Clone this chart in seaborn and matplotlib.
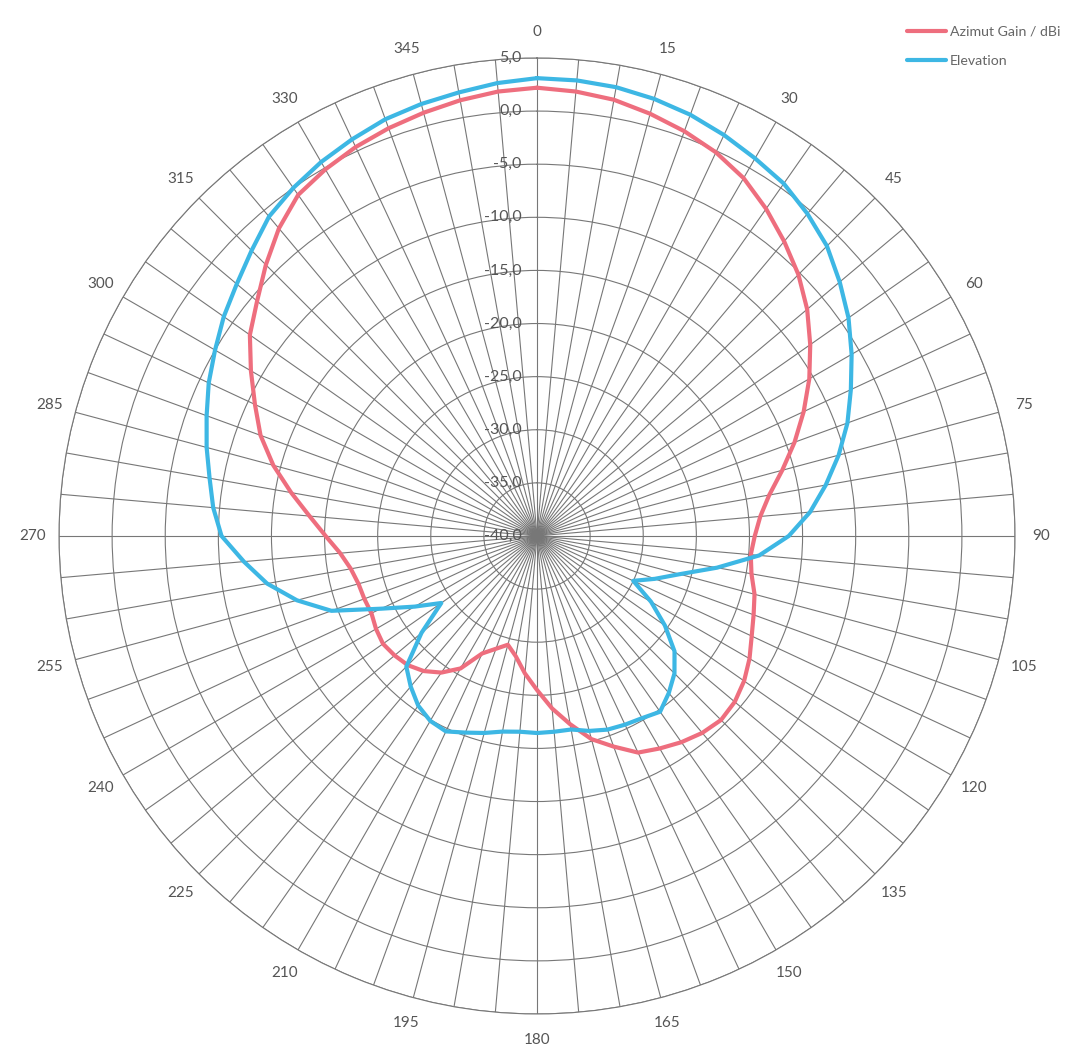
import numpy as np
import pandas as pd
import matplotlib
matplotlib.use("Agg")
import matplotlib.pyplot as plt
import seaborn as sns

# ---------------- data ----------------
angles_deg = list(range(0, 360, 5))

azimut_gain = [
    2.2, 2.0, 1.7, 1.15, 0.55, -0.15, -1.1, -2.4, -3.8, -5.2,
    -6.8, -8.6, -10.4, -12.3, -14.2, -16.1, -17.8, -18.9, -19.5, -19.8,
    -19.5, -18.8, -18.3, -17.7, -16.9, -16.2, -15.7, -15.5, -15.8, -16.3,
    -16.9, -17.5, -18.9, -20.2, -22.0, -23.7, -25.5, -27.0, -28.5, -29.4,
    -28.7, -27.8, -25.6, -24.3, -23.4, -22.8, -22.5, -22.3, -22.5, -22.8,
    -22.7, -22.6, -22.2, -21.4, -20.1, -18.5, -16.5, -14.3, -12.3, -10.7,
    -8.9, -7.0, -5.6, -3.9, -2.2, -0.8, -0.15, 0.4, 0.85, 1.25,
    1.65, 2.0,
]

elevation_gain = [
    3.1, 3.05, 2.9, 2.6, 2.2, 1.65, 1.05, 0.5, -0.4, -1.4,
    -2.8, -4.2, -5.8, -7.4, -8.9, -10.6, -12.4, -14.2, -16.3, -19.0,
    -22.8, -26.1, -28.2, -30.0, -27.6, -25.3, -23.1, -21.7, -20.7, -19.8,
    -20.2, -20.4, -20.6, -21.0, -21.5, -21.5, -21.45, -21.5, -21.3, -20.8,
    -20.3, -19.7, -19.9, -20.5, -21.5, -22.6, -25.8, -29.0, -26.7, -23.8,
    -19.4, -16.6, -14.2, -12.3, -10.3, -9.4, -8.7, -7.8, -6.9, -5.9,
    -5.0, -4.0, -3.1, -2.0, -0.75, 0.0, 0.65, 1.2, 1.75, 2.1,
    2.4, 2.8,
]

series_names = ["Azimut Gain / dBi", "Elevation"]
series_colors = ["#EE6E7E", "#3DB7E4"]

r_ticks = [-40, -35, -30, -25, -20, -15, -10, -5, 0, 5]
r_tick_labels = ["-40,0", "-35,0", "-30,0", "-25,0", "-20,0",
                 "-15,0", "-10,0", "-5,0", "0,0", "5,0"]

angle_label_values = [0, 15, 30, 45, 60, 75, 90, 105, 120, 135, 150, 165,
                      180, 195, 210, 225, 240, 255, 270, 285, 300, 315, 330, 345]
angle_labels = ["0", "15", "30", "45", "60", "75", "90", "105", "120", "135",
                "150", "165", "180", "195", "210", "225", "240", "255", "270",
                "285", "300", "315", "330", "345"]

# ---------------- build table ----------------
frames = []
for name, vals in zip(series_names, [azimut_gain, elevation_gain]):
    a = angles_deg + [360]
    v = vals + [vals[0]]
    frames.append(pd.DataFrame({"theta": np.deg2rad(a), "gain": v, "series": name}))
df = pd.concat(frames, ignore_index=True)

# ---------------- figure ----------------
sns.set_style("white")
plt.rcParams["font.family"] = ["Lato", "DejaVu Sans"]

fig = plt.figure(figsize=(10.69, 10.50), dpi=100)
ax = fig.add_axes([0.0552, 0.0343, 0.8943, 0.9105], projection="polar")
ax.set_theta_zero_location("N")
ax.set_theta_direction(-1)

sns.lineplot(data=df, x="theta", y="gain", hue="series", hue_order=series_names,
             palette=series_colors, sort=False, estimator=None, lw=3.0,
             ax=ax, legend=False)

ax.set_ylim(r_ticks[0], r_ticks[-1])
ax.set_yticks(r_ticks[1:])
ax.set_yticklabels([])

tick_pos = np.deg2rad(angles_deg)
lab_map = dict(zip(angle_label_values, angle_labels))
ax.set_xticks(tick_pos)
ax.set_xticklabels([lab_map.get(a, "") for a in angles_deg])
ax.tick_params(axis="x", pad=8.5, labelsize=11, colors="#555555")
ax.set_xlabel("")
ax.set_ylabel("")

ax.grid(True, color="#777777", lw=0.8)
ax.spines["polar"].set_color("#777777")
ax.spines["polar"].set_linewidth(0.8)
ax.set_facecolor("white")

for rv, rl in zip(r_ticks, r_tick_labels):
    ax.annotate(rl, xy=(0, rv), xytext=(-11, 0), textcoords="offset points",
                ha="right", va="center", fontsize=11.5, color="#555555",
                annotation_clip=False)

# legend
handles = [plt.Line2D([], [], color=c, lw=3.0) for c in series_colors]
fig.legend(handles, series_names, loc="upper left",
           bbox_to_anchor=(0.839, 0.985), frameon=False, fontsize=10.2,
           handlelength=2.8, handletextpad=0.25, labelspacing=1.2,
           labelcolor="#666666", borderpad=0.2)

fig.savefig("out.png", dpi=100)
